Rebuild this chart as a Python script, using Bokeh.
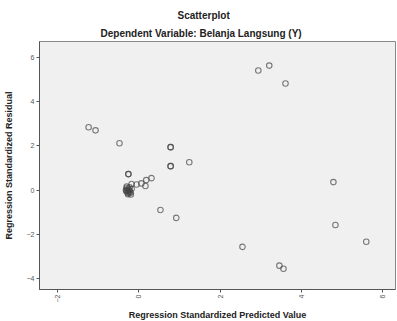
import math
from bokeh.plotting import figure
from bokeh.models import ColumnDataSource, FixedTicker, Range1d, Title
from bokeh.embed import file_html
from bokeh.resources import INLINE

# Regression Standardized Predicted Value
pred = [-1.24, -1.07, -0.48, 0.78, 0.78, 0.78, 0.78, 1.24, -0.26, -0.26,
        -0.18, -0.06, 0.06, 0.18, 0.31, 0.16,
        0.53, 0.92, 2.94, 3.21, 3.61, 4.79, 4.84, 5.60, 2.55, 3.46, 3.56,
        -0.30, -0.27, -0.24, -0.31, -0.28, -0.22, -0.26, -0.20, -0.32,
        -0.18, -0.23, -0.29, -0.25, -0.21, -0.27, -0.30]
# Regression Standardized Residual
resid = [2.84, 2.70, 2.12, 1.94, 1.94, 1.08, 1.08, 1.26, 0.72, 0.72,
         0.27, 0.25, 0.30, 0.45, 0.54, 0.18,
         -0.90, -1.26, 5.41, 5.63, 4.82, 0.36, -1.58, -2.34, -2.57, -3.42, -3.56,
         0.10, 0.05, 0.00, -0.05, -0.10, -0.08, -0.15, -0.20, 0.00,
         0.05, 0.12, -0.02, -0.05, -0.12, -0.19, 0.16]

x_ticks = [-2, 0, 2, 4, 6]
y_ticks = [-4, -2, 0, 2, 4, 6]

title_text = "Scatterplot"
subtitle_text = "Dependent Variable: Belanja Langsung (Y)"
x_label = "Regression Standardized Predicted Value"
y_label = "Regression Standardized Residual"

FONT = "Liberation Sans"

p = figure(frame_width=356, frame_height=248, output_backend="svg",
           toolbar_location=None,
           x_range=Range1d(-2.45, 6.32), y_range=Range1d(-4.5, 6.72),
           min_border_left=38, min_border_right=3, min_border_top=41,
           min_border_bottom=32)

p.title = Title(text=title_text, align="left", text_font=FONT,
                text_font_size="10px", text_font_style="bold",
                text_color="#222222", offset=138, standoff=3)
p.add_layout(Title(text=subtitle_text, align="left", text_font=FONT,
                   text_font_size="10px", text_font_style="bold",
                   text_color="#222222", offset=61, standoff=6), "above")

p.background_fill_color = "#f0f0f0"
p.border_fill_color = "white"
p.outline_line_color = "#888888"
p.grid.visible = False

src = ColumnDataSource(dict(x=pred, y=resid))
p.scatter("x", "y", source=src, marker="circle", size=5.5, fill_color=None,
          line_color="#444444", line_alpha=0.7, line_width=1.1)

p.xaxis.ticker = FixedTicker(ticks=x_ticks)
p.yaxis.ticker = FixedTicker(ticks=y_ticks)
p.xaxis.major_label_orientation = math.pi / 2
for ax in (p.xaxis, p.yaxis):
    ax.axis_line_color = "#555555"
    ax.major_tick_line_color = "#555555"
    ax.major_tick_out = 3
    ax.major_tick_in = 0
    ax.minor_tick_line_color = None
    ax.major_label_text_font = FONT
    ax.major_label_text_font_size = "7px"
    ax.major_label_text_color = "#555555"
    ax.major_label_standoff = 2
    ax.axis_label_text_font = FONT
    ax.axis_label_text_font_size = "9px"
    ax.axis_label_text_font_style = "bold"
    ax.axis_label_text_color = "#222222"
p.xaxis.axis_label = x_label
p.yaxis.axis_label = y_label
p.xaxis.axis_label_standoff = 5
p.yaxis.axis_label_standoff = 10

open("out.html", "w").write(file_html(p, INLINE))
